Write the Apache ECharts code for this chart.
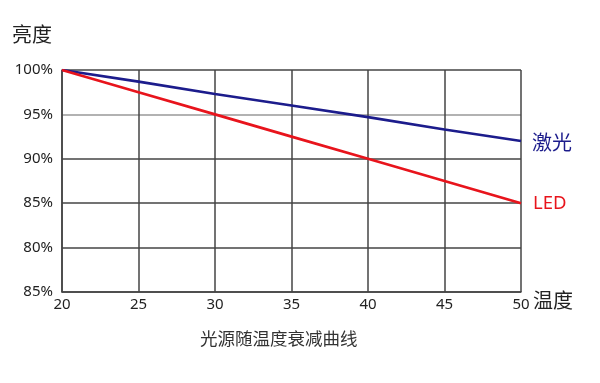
<!DOCTYPE html>
<html><head><meta charset="utf-8">
<script src="https://cdn.jsdelivr.net/npm/echarts@6/dist/echarts.min.js"></script>
<style>html,body{margin:0;padding:0;background:#fff}#c{width:600px;height:383px}</style>
</head><body><div id="c"></div>
<script>
const temps = [20, 25, 30, 35, 40, 45, 50];
const laser = [100, 98.7, 97.3, 96.0, 94.7, 93.3, 92.0];
const led = [100, 97.5, 95.0, 92.5, 90.0, 87.5, 85.0];
const yTickValues = [75, 80, 85, 90, 95, 100];
const yTickLabels = ['85%', '80%', '85%', '90%', '95%', '100%'];
const font = '"Noto Sans", "Noto Sans CJK SC", sans-serif';
const chart = echarts.init(document.getElementById('c'));
chart.setOption({
  animation: false,
  grid: { left: 62, right: 79, top: 70, bottom: 91 },
  xAxis: {
    type: 'value', min: 20, max: 50, interval: 5,
    axisLine: { show: true, lineStyle: { color: '#444', width: 1.5 } },
    axisTick: { show: false },
    axisLabel: { fontSize: 15, color: '#222', fontFamily: font, margin: 5 },
    splitLine: { show: true, lineStyle: { color: '#444', width: 1.5 } }
  },
  yAxis: {
    type: 'value', min: 75, max: 100, interval: 5,
    axisLine: { show: true, lineStyle: { color: '#444', width: 1.5 } },
    axisTick: { show: false },
    axisLabel: { fontSize: 15, color: '#222', fontFamily: font, margin: 9,
      formatter: v => yTickLabels[yTickValues.indexOf(v)] },
    splitLine: { show: true, lineStyle: { color: ['#444', '#444', '#444', '#444', '#999', '#444'], width: 1.5 } }
  },
  graphic: [
    { type: 'text', left: 12, top: 26, style: { text: '亮度', fontSize: 20, fill: '#222', fontFamily: font } },
    { type: 'text', left: 533, top: 292, style: { text: '温度', fontSize: 20, fill: '#222', fontFamily: font } },
    { type: 'text', left: 200, top: 331, style: { text: '光源随温度衰减曲线', fontSize: 17.5, fill: '#333', fontFamily: font } }
  ],
  series: [
    { name: '激光', type: 'line', data: temps.map((t, i) => [t, laser[i]]), symbol: 'none',
      lineStyle: { color: '#1c1c8c', width: 2.7 }, itemStyle: { color: '#1c1c8c' },
      endLabel: { show: true, formatter: '{a}', fontSize: 20, color: '#1c1c8c', fontFamily: font, distance: 11, offset: [0, 3] } },
    { name: 'LED', type: 'line', data: temps.map((t, i) => [t, led[i]]), symbol: 'none',
      lineStyle: { color: '#e8141c', width: 2.7 }, itemStyle: { color: '#e8141c' },
      endLabel: { show: true, formatter: '{a}', fontSize: 18.5, color: '#e8141c', fontFamily: font, distance: 12, offset: [0, 1] } }
  ]
});
</script></body></html>
